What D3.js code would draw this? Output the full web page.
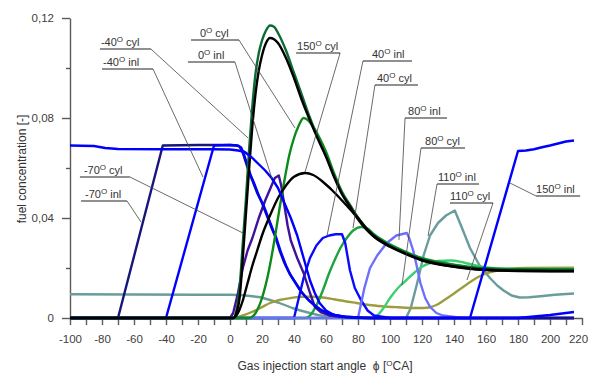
<!DOCTYPE html>
<html>
<head>
<meta charset="utf-8">
<script src="https://cdn.jsdelivr.net/npm/d3@7"></script>
<style>
  body { margin: 0; background: #fff; }
  text { font-family: "Liberation Sans", Arial, sans-serif; }
</style>
</head>
<body>
<div id="chart"></div>
<script>
'use strict'

// [angle, fuel concentration]
const inl_m70 = [[-100,0],[-70,0],[-42,0.069],[-20,0.0692],[0,0.0692],[4,0.069],[6,0.0685],[8,0.066],[10,0.062],[12,0.058],[14,0.055],[17,0.050],[20,0.046],[23,0.041],[26,0.036],[28,0.033],[31,0.027],[34,0.022],[37,0.018],[40,0.015],[44,0.011],[48,0.008],[52,0.0055],[56,0.0035],[60,0.0022],[65,0.0012],[70,0.0006],[80,0.0002],[90,0],[215,0]]
const inl_m40 = [[-100,0],[-40,0],[-10,0.069],[0,0.0692],[5,0.069],[7,0.0682],[9,0.065],[11,0.061],[13,0.057],[15,0.054],[18,0.049],[21,0.045],[24,0.040],[27,0.035],[29,0.032],[32,0.026],[35,0.021],[38,0.017],[41,0.014],[45,0.010],[49,0.0072],[53,0.005],[57,0.0032],[61,0.002],[66,0.0011],[72,0.0005],[82,0.0001],[92,0],[180,0],[190,0.0006],[200,0.0012],[210,0.002],[215,0.0024]]
const inl_150 = [[-100,0.069],[-85,0.0688],[-78,0.068],[-70,0.0676],[-40,0.0675],[-10,0.0675],[0,0.0674],[5,0.067],[9,0.0665],[14,0.064],[18,0.0615],[22,0.059],[26,0.056],[30,0.052],[34,0.046],[38,0.040],[42,0.033],[46,0.024],[50,0.015],[53,0.010],[56,0.006],[60,0.003],[65,0.0012],[72,0.0004],[85,0],[150,0],[180,0.0668],[185,0.067],[190,0.0675],[195,0.0683],[200,0.069],[205,0.0698],[210,0.0706],[215,0.071]]
const inl_0 = [[-100,0],[0,0],[2,0.002],[5,0.010],[8,0.020],[11,0.027],[14,0.032],[18,0.040],[22,0.047],[26,0.053],[28,0.056],[30.5,0.057],[32,0.053],[34,0.045],[36,0.037],[38,0.031],[42,0.024],[46,0.018],[50,0.010],[53,0.0045],[57,0.0022],[62,0.001],[70,0.0004],[80,0],[215,0]]
const inl_40 = [[-100,0],[40,0],[43,0.008],[46,0.016],[50,0.024],[54,0.029],[58,0.032],[62,0.033],[66,0.0335],[70,0.0335],[72,0.030],[75,0.019],[78,0.012],[82,0.007],[86,0.003],[90,0.001],[100,0],[215,0]]
const inl_80 = [[-100,0],[80,0],[84,0.012],[87.5,0.020],[92,0.025],[98,0.030],[104,0.033],[110.5,0.034],[112,0.032],[114.5,0.027],[117,0.020],[119,0.014],[122,0.008],[125,0.0045],[129,0.002],[133,0.001],[145,0],[215,0]]
const inl_110 = [[-100,0.0095],[-60,0.0094],[-20,0.0093],[0,0.0093],[8,0.0091],[14,0.0087],[19,0.0083],[25,0.0072],[30,0.0062],[35,0.005],[39,0.004],[44,0.003],[50,0.002],[55,0.0012],[60,0.0006],[70,0.0002],[85,0],[110,0],[113,0.004],[117,0.014],[121,0.025],[125,0.033],[130,0.038],[135,0.041],[140.5,0.043],[145,0.036],[150,0.028],[156,0.021],[162.5,0.016],[167,0.013],[171,0.011],[176,0.009],[181,0.0082],[187,0.0083],[194,0.0087],[203,0.0093],[215,0.0098]]

const cyl_m70 = [[-100,0],[2,0],[4,0.002],[6,0.008],[8,0.024],[10,0.042],[12,0.060],[14,0.077],[16,0.090],[18,0.099],[20,0.105],[22.5,0.110],[25,0.112],[27.5,0.1115],[30,0.110],[35,0.104],[40,0.096],[45,0.087],[50,0.079],[55,0.0715],[60,0.0645],[65,0.0565],[70,0.0495],[75,0.0445],[80,0.0395],[85,0.0355],[90,0.0325],[100,0.0285],[110,0.0255],[120,0.023],[130,0.0215],[140,0.0205],[150,0.0197],[160,0.0192],[180,0.0188],[215,0.0187]]
const cyl_m40 = [[-100,0],[2,0],[4,0.003],[6,0.012],[8,0.030],[10,0.048],[12,0.068],[14,0.085],[16,0.098],[18,0.106],[20,0.111],[22.5,0.115],[25,0.117],[27.5,0.1165],[30,0.114],[35,0.107],[40,0.098],[45,0.089],[50,0.080],[55,0.072],[60,0.065],[65,0.057],[70,0.050],[75,0.045],[80,0.040],[85,0.036],[90,0.033],[100,0.029],[110,0.026],[120,0.0235],[130,0.022],[140,0.021],[150,0.0202],[160,0.0197],[180,0.0193],[215,0.0192]]
const cyl_0 = [[-100,0],[12,0],[16,0.002],[20,0.008],[24,0.018],[28,0.032],[31,0.044],[34,0.055],[37,0.065],[40,0.072],[43,0.077],[46,0.080],[49,0.079],[52,0.0765],[56,0.072],[60,0.0665],[65,0.058],[70,0.0505],[75,0.0452],[80,0.0402],[85,0.0362],[90,0.0332],[100,0.0292],[110,0.0262],[120,0.0237],[130,0.0222],[140,0.0212],[150,0.0203],[160,0.0198],[180,0.0195],[215,0.0194]]
const cyl_40 = [[-100,0],[47,0],[50,0.001],[54,0.005],[58,0.011],[62,0.018],[66,0.024],[69,0.028],[73,0.032],[77,0.035],[82,0.0364],[86,0.0358],[90,0.0335],[100,0.0295],[110,0.0265],[120,0.024],[130,0.0225],[140,0.0213],[150,0.0204],[160,0.0199],[180,0.0196],[215,0.0195]]
const cyl_80 = [[-100,0],[88,0],[92,0.001],[96,0.004],[100,0.008],[105,0.012],[110,0.015],[115,0.018],[120,0.0205],[125,0.022],[130,0.0228],[138,0.023],[146,0.0222],[155,0.0208],[165,0.0199],[180,0.0196],[215,0.0196]]
const cyl_110 = [[-100,0],[2,0],[8,0.001],[14,0.0025],[19,0.004],[25,0.006],[31,0.0072],[38,0.008],[45,0.0085],[52,0.0085],[58,0.0082],[65,0.0075],[72,0.0067],[79,0.006],[87,0.0052],[95,0.0047],[105,0.0043],[115,0.004],[121,0.004],[125,0.0043],[129,0.0052],[134,0.0072],[140,0.0098],[147,0.013],[154,0.016],[160,0.0178],[167,0.019],[175,0.0197],[185,0.02],[215,0.0201]]
const cyl_150 = [[-100,0],[2,0],[5,0.002],[8,0.007],[11,0.014],[14,0.021],[17,0.027],[20,0.033],[25,0.041],[30,0.048],[35,0.053],[40,0.0565],[47,0.058],[52,0.0572],[58,0.0545],[64,0.051],[70,0.047],[75,0.0435],[80,0.040],[85,0.036],[90,0.0328],[100,0.0287],[110,0.0257],[120,0.0232],[130,0.0217],[140,0.0206],[150,0.0198],[160,0.0193],[180,0.0189],[215,0.0188]]

const xTicks = d3.range(-100, 221, 10)
const yTicks = [0, 0.02, 0.04, 0.06, 0.08, 0.10, 0.12]
const yLabels = { 0: '0', 0.04: '0,04', 0.08: '0,08', 0.12: '0,12' }

// drawing order: first is at the bottom
const series = [
  { data: inl_110, color: '#6a9c9c', curve: d3.curveLinear },
  { data: cyl_110, color: '#9d9d3f', curve: d3.curveMonotoneX },
  { data: cyl_80, color: '#3ccf72', curve: d3.curveMonotoneX },
  { data: cyl_40, color: '#1ea33d', curve: d3.curveMonotoneX },
  { data: inl_40, color: '#0a0aff', curve: d3.curveLinear },
  { data: inl_80, color: '#6e6eff', curve: d3.curveLinear },
  { data: inl_0, color: '#3f129a', curve: d3.curveLinear },
  { data: inl_m70, color: '#16167c', curve: d3.curveLinear },
  { data: inl_m40, color: '#0000ff', curve: d3.curveLinear },
  { data: cyl_0, color: '#0d8a1c', curve: d3.curveMonotoneX },
  { data: cyl_m40, color: '#0c6a34', curve: d3.curveMonotoneX },
  { data: cyl_m70, color: '#000000', curve: d3.curveMonotoneX },
  { data: cyl_150, color: '#000000', curve: d3.curveMonotoneX },
  { data: inl_150, color: '#0000ff', curve: d3.curveLinear }
]

// label text, underline start [angle, conc], leader target [angle, conc],
// underline width, text indent, leader on the right end
const notes = [
  { t: '-40°cyl', at: [-81.3, 0.1076], to: [11.3, 0.072], w: 51, dx: 1, right: true },
  { t: '-40°inl', at: [-80, 0.0996], to: [-16.9, 0.0564], w: 51, dx: 1, right: true },
  { t: '0°cyl', at: [-24.4, 0.1112], to: [40.6, 0.076], w: 48, dx: 9, right: true },
  { t: '0°inl', at: [-26.3, 0.1024], to: [26.3, 0.0556], w: 47, dx: 10, right: true },
  { t: '150°cyl', at: [41.3, 0.106], to: [46.9, 0.0584], w: 44, dx: 1, right: true },
  { t: '40°inl', at: [83.1, 0.1028], to: [60.6, 0.0328], w: 49, dx: 9, right: false },
  { t: '40°cyl', at: [90.6, 0.0932], to: [76.9, 0.036], w: 43, dx: 2, right: false },
  { t: '80°inl', at: [109.4, 0.08], to: [105.6, 0.0312], w: 42, dx: 3, right: false },
  { t: '80°cyl', at: [119.4, 0.068], to: [107.5, 0.0132], w: 44, dx: 4, right: false },
  { t: '110°inl', at: [129.4, 0.0536], to: [123.8, 0.0328], w: 42, dx: 1, right: false },
  { t: '110°cyl', at: [137.5, 0.046], to: [148.1, 0.0152], w: 43, dx: 0, right: true },
  { t: '150°inl', at: [191.3, 0.0488], to: [175, 0.054], w: 44, dx: 0, right: false },
  { t: '-70°cyl', at: [-93.8, 0.0564], to: [8.1, 0.034], w: 50, dx: 4, right: true },
  { t: '-70°inl', at: [-93.1, 0.0468], to: [-55.6, 0.0384], w: 46, dx: 4, right: true }
]

const width = 590
const height = 374
const x = d3.scaleLinear().domain([-100, 220]).range([70, 582])
const y = d3.scaleLinear().domain([0, 0.12]).range([318, 18])

const svg = d3.select('#chart')
  .append('svg')
  .attr('width', width)
  .attr('height', height)

// axes
const xAxis = svg.append('g')
  .attr('transform', `translate(0,${y(0)})`)
  .call(d3.axisBottom(x).tickValues(xTicks).tickSize(7).tickSizeOuter(0)
    .tickFormat(d => d % 20 === 0 ? d : ''))
const yAxis = svg.append('g')
  .attr('transform', `translate(${x(-100)},0)`)
  .call(d3.axisLeft(y).tickValues(yTicks).tickSizeOuter(0)
    .tickFormat(d => yLabels[d] || ''))
yAxis.selectAll('.tick line').attr('x2', d => yLabels[d] ? -8 : -4)
yAxis.selectAll('.tick text').attr('x', -16)

svg.selectAll('.domain, .tick line').attr('stroke', '#5a5a5a').attr('stroke-width', 1.4)
svg.selectAll('.tick text')
  .attr('fill', '#404040')
  .style('font-size', '11.5px')
  .style('font-family', '"Liberation Sans", Arial, sans-serif')
xAxis.selectAll('.tick text').attr('y', 17)
  .attr('dx', d => d === 220 ? -4 : 0)

// curves
const line = d3.line().x(d => x(d[0])).y(d => y(d[1]))
svg.append('g')
  .selectAll('path')
  .data(series)
  .enter()
  .append('path')
  .attr('d', s => line.curve(s.curve)(s.data))
  .attr('fill', 'none')
  .attr('stroke', s => s.color)
  .attr('stroke-width', 2.4)
  .attr('stroke-linejoin', 'round')

// text with the degree sign drawn as a raised "o"
function degText (sel, str) {
  const parts = str.split('°')
  sel.append('tspan').text(parts[0])
  if (parts.length > 1) {
    sel.append('tspan').attr('dy', -4).style('font-size', '8px').text('O')
    sel.append('tspan').attr('dy', 4).text(parts[1])
  }
}

// annotations
const ann = svg.append('g')
notes.forEach(n => {
  const ux0 = x(n.at[0])
  const uy = y(n.at[1])
  const ux1 = ux0 + n.w
  const lx = n.right ? ux1 : ux0
  ann.append('line')
    .attr('x1', lx).attr('y1', uy)
    .attr('x2', x(n.to[0])).attr('y2', y(n.to[1]))
    .attr('stroke', '#444').attr('stroke-width', 0.8)
  ann.append('line')
    .attr('x1', ux0).attr('y1', uy)
    .attr('x2', ux1).attr('y2', uy)
    .attr('stroke', '#222').attr('stroke-width', 1.2)
  const t = ann.append('text')
    .attr('x', ux0 + n.dx)
    .attr('y', uy - 3.5)
    .attr('fill', '#333')
    .style('font-size', '11px')
    .style('white-space', 'pre')
  degText(t, n.t.replace('°', '° '))
})

// axis titles
const xt = svg.append('text')
  .attr('x', 325)
  .attr('y', 370)
  .attr('text-anchor', 'middle')
  .attr('fill', '#333')
  .style('font-size', '12px')
  .style('white-space', 'pre')
degText(xt, 'Gas injection start angle  \u03d5 [°CA]')

svg.append('text')
  .attr('transform', 'translate(26,169) rotate(-90)')
  .attr('text-anchor', 'middle')
  .attr('fill', '#333')
  .style('font-size', '12px')
  .text('fuel concentration [-]')
</script>
</body>
</html>
